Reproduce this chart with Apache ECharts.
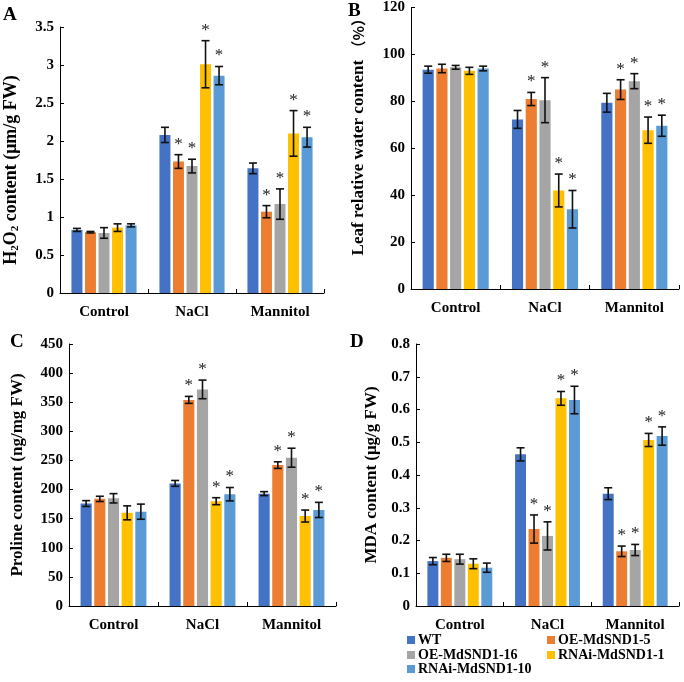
<!DOCTYPE html>
<html>
<head>
<meta charset="utf-8">
<script src="https://cdn.jsdelivr.net/npm/echarts@6/dist/echarts.min.js"></script>
<style>html,body{margin:0;padding:0;background:#fff;}#c{width:684px;height:682px;}</style>
</head>
<body>
<div id="c"></div>
<script>
var categories = ['Control', 'NaCl', 'Mannitol'];
var seriesNames = ['WT', 'OE-MdSND1-5', 'OE-MdSND1-16', 'RNAi-MdSND1-1', 'RNAi-MdSND1-10'];
var colors = ['#4472C4', '#ED7D31', '#A5A5A5', '#FFC000', '#5B9BD5'];

// Panel A: H2O2 content
var valuesA = [[0.83, 2.08, 1.64], [0.80, 1.73, 1.07], [0.79, 1.67, 1.17], [0.86, 3.01, 2.10], [0.89, 2.86, 2.05]];
var errorsA = [[0.02, 0.10, 0.07], [0.01, 0.09, 0.08], [0.07, 0.09, 0.20], [0.05, 0.31, 0.30], [0.02, 0.12, 0.13]];
var ticksA = [0, 3.5, 0.5];
// Panel B: Leaf relative water content
var valuesB = [[93.5, 72.3, 79.4], [94, 81, 85], [94.5, 80.5, 88.6], [93, 42, 67.7], [94, 34, 69.6]];
var errorsB = [[1.5, 3.8, 4.0], [1.8, 2.8, 4.2], [0.8, 9.6, 3.2], [1.5, 7, 5.6], [1.0, 8, 4.5]];
var ticksB = [0, 120, 20];
// Panel C: Proline content
var valuesC = [[176, 210.6, 193], [184, 354, 242], [185, 372, 254.7], [160, 180, 154.5], [162, 192, 165]];
var errorsC = [[5, 5, 3.4], [4.5, 6, 5.7], [8, 16, 16.3], [12, 6, 10.3], [13, 11.5, 13]];
var ticksC = [0, 450, 50];
// Panel D: MDA content
var valuesD = [[0.137, 0.463, 0.343], [0.147, 0.235, 0.167], [0.143, 0.214, 0.171], [0.129, 0.634, 0.507], [0.117, 0.629, 0.519]];
var errorsD = [[0.011, 0.02, 0.018], [0.011, 0.043, 0.016], [0.015, 0.043, 0.017], [0.015, 0.021, 0.02], [0.014, 0.042, 0.028]];
var ticksD = [0, 0.8, 0.1];
// significance asterisks (per series, per category)
var significant = [[0, 0, 0], [0, 1, 1], [0, 1, 1], [0, 1, 1], [0, 1, 1]];

var FONT = 'Liberation Serif';
var BAR_GAP = 0.23, CAT_GAP = 0.26;

var panels = [
  {v: valuesA, e: errorsA, t: ticksA, grid: {left: 60, top: 27, width: 264, height: 266}, name: '{b|H}{s|2}{b|O}{s|2}{b| content (μm/g FW)}', gap: 39, pad: [0, 20, 0, 0], fs: 18, letter: 'A', lx: 3, ly: 6},
  {v: valuesB, e: errorsB, t: ticksB, grid: {left: 411, top: 7, width: 268, height: 282}, name: '{b|Leaf relative water content }{c|（%）}', gap: 44, pad: [0, 0, 0, 30], fs: 17, letter: 'B', lx: 348, ly: 2},
  {v: valuesC, e: errorsC, t: ticksC, grid: {left: 69, top: 344, width: 267, height: 262}, name: 'Proline content (ng/mg FW)', gap: 43, pad: 0, fs: 17, letter: 'C', lx: 10, ly: 333},
  {v: valuesD, e: errorsD, t: ticksD, grid: {left: 416, top: 344, width: 263, height: 262}, name: 'MDA content (μg/g FW)', gap: 36, pad: 0, fs: 17, letter: 'D', lx: 350, ly: 333}
];

var grids = [], xAxes = [], yAxes = [], series = [], graphics = [];
panels.forEach(function (p, pi) {
  grids.push(p.grid);
  xAxes.push({
    type: 'category', gridIndex: pi, data: categories,
    axisLine: {lineStyle: {color: '#000', width: 1}},
    axisTick: {show: true, inside: true, length: 4, lineStyle: {color: '#000'}},
    axisLabel: {color: '#000', fontFamily: FONT, fontWeight: 'bold', fontSize: 15, margin: 12},
    splitLine: {show: false}
  });
  yAxes.push({
    type: 'value', gridIndex: pi, min: p.t[0], max: p.t[1], interval: p.t[2],
    name: p.name, nameLocation: 'middle', nameRotate: 90, nameGap: p.gap,
    nameTextStyle: {color: '#000', fontFamily: FONT, fontWeight: 'bold', fontSize: p.fs,
      padding: p.pad,
      rich: {b: {fontFamily: FONT, fontWeight: 'bold', fontSize: p.fs, color: '#000'},
             c: {fontFamily: 'Noto Sans CJK SC', fontWeight: 'bold', fontSize: 15, color: '#000'},
             s: {fontFamily: FONT, fontWeight: 'bold', fontSize: 11, color: '#000', verticalAlign: 'bottom', padding: [8, 0, 0, 0]}}},
    axisLine: {show: true, lineStyle: {color: '#000', width: 1}},
    axisTick: {show: true, inside: true, length: 4, lineStyle: {color: '#000'}},
    axisLabel: {color: '#000', fontFamily: FONT, fontWeight: 'bold', fontSize: 15, margin: 6},
    splitLine: {show: false}
  });
  seriesNames.forEach(function (sn, si) {
    series.push({
      type: 'bar', name: sn, xAxisIndex: pi, yAxisIndex: pi,
      data: p.v[si], itemStyle: {color: colors[si]},
      barGap: (BAR_GAP * 100) + '%', barCategoryGap: (CAT_GAP * 100) + '%',
      animation: false
    });
  });
  var errData = [];
  seriesNames.forEach(function (sn, si) {
    categories.forEach(function (c, ci) {
      errData.push([ci, si, p.v[si][ci], p.e[si][ci], significant[si][ci]]);
    });
  });
  series.push({
    type: 'custom', xAxisIndex: pi, yAxisIndex: pi, data: errData, animation: false, z: 10,
    renderItem: function (params, api) {
      var ci = api.value(0), si = api.value(1), v = api.value(2), e = api.value(3), st = api.value(4);
      var band = api.size([1, 0])[0];
      var groupW = band * (1 - CAT_GAP);
      var w = groupW / (5 + 4 * BAR_GAP);
      var c = api.coord([ci, v]);
      var x = c[0] - groupW / 2 + si * w * (1 + BAR_GAP) + w / 2;
      var top = api.coord([ci, v + e])[1];
      var bot = api.coord([ci, v - e])[1];
      var ls = {stroke: '#111', lineWidth: 1.6};
      var ch = [
        {type: 'line', shape: {x1: x, y1: top, x2: x, y2: bot}, style: ls},
        {type: 'line', shape: {x1: x - 4, y1: top, x2: x + 4, y2: top}, style: ls},
        {type: 'line', shape: {x1: x - 4, y1: bot, x2: x + 4, y2: bot}, style: ls}
      ];
      if (st) {
        ch.push({type: 'text', style: {text: '*', x: x, y: top - 2, align: 'center', verticalAlign: 'bottom',
          font: '17px "' + FONT + '"', fill: '#222'}});
      }
      return {type: 'group', children: ch};
    }
  });
  graphics.push({type: 'text', left: p.lx, top: p.ly, style: {text: p.letter, font: 'bold 19px "' + FONT + '"', fill: '#000'}});
});

var legendPos = [[407, 633], [547, 633], [407, 648], [547, 648], [407, 662]];
var legends = seriesNames.map(function (sn, i) {
  return {
    orient: 'horizontal', left: legendPos[i][0], top: legendPos[i][1], padding: 0,
    itemWidth: 8, itemHeight: 8, icon: 'rect', data: [sn],
    textStyle: {color: '#000', fontFamily: FONT, fontWeight: 'bold', fontSize: 14, padding: [0, 0, 0, -2]}
  };
});

var chart = echarts.init(document.getElementById('c'), null, {renderer: 'canvas'});
chart.setOption({
  animation: false,
  backgroundColor: '#fff',
  grid: grids, xAxis: xAxes, yAxis: yAxes, series: series,
  legend: legends, graphic: graphics
});
</script>
</body>
</html>
